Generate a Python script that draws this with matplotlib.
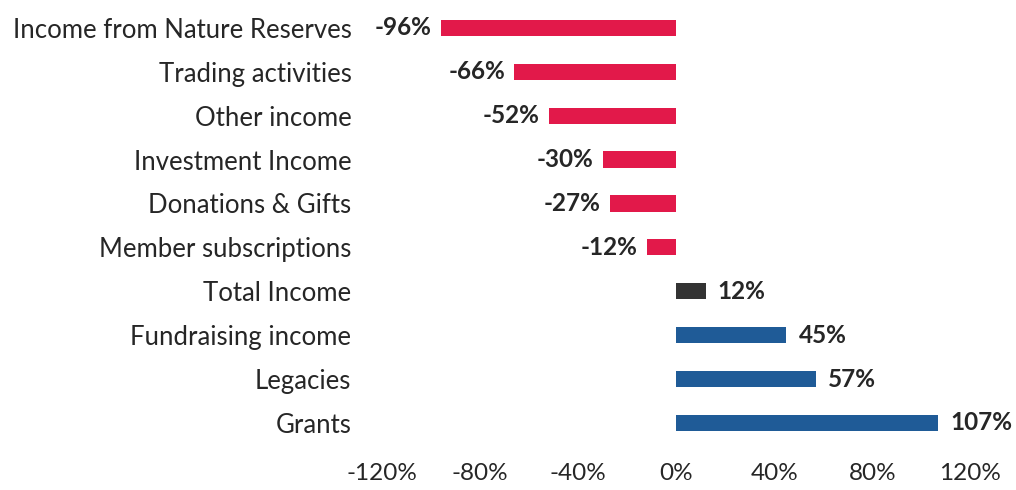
import matplotlib
matplotlib.use("Agg")
import matplotlib.pyplot as plt
import numpy as np

plt.rcParams['font.family'] = ['Lato', 'DejaVu Sans']

# data (top to bottom)
categories = ['Income from Nature Reserves', 'Trading activities', 'Other income',
              'Investment Income', 'Donations & Gifts', 'Member subscriptions',
              'Total Income', 'Fundraising income', 'Legacies', 'Grants']
changes = [-96, -66, -52, -30, -27, -12, 12, 45, 57, 107]
tick_vals = [-120, -80, -40, 0, 40, 80, 120]

red = '#E2194A'
blue = '#1F5B97'
dark = '#333333'
colors = [dark if c == 'Total Income' else (red if v < 0 else blue)
          for c, v in zip(categories, changes)]

fig = plt.figure(figsize=(10.16, 4.9), dpi=100)
ax = fig.add_axes([0.376, 0.092, 0.579, 0.896])

y = np.arange(len(categories))
ax.barh(y, changes, height=0.37, color=colors)

# value labels next to bar ends
for yi, v in zip(y, changes):
    off = 12 if v > 0 else -9
    ax.annotate(f"{v}%", (v, yi), xytext=(off, 0), textcoords='offset pixels',
                ha='left' if v > 0 else 'right', va='center',
                fontsize=17.5, fontweight='bold', color='#262626',
                annotation_clip=False)

ax.set_xlim(-120, 120)
ax.set_ylim(len(categories) - 0.5, -0.5)
ax.set_yticks(y)
ax.set_yticklabels(categories, fontsize=18.5, color='#262626')
ax.set_xticks(tick_vals)
ax.set_xticklabels([f"{t}%" for t in tick_vals], fontsize=17.5, color='#262626')
ax.tick_params(axis='y', length=0, pad=22)
ax.tick_params(axis='x', length=0, pad=13)
for s in ax.spines.values():
    s.set_visible(False)

fig.savefig('out.png', dpi=100)
